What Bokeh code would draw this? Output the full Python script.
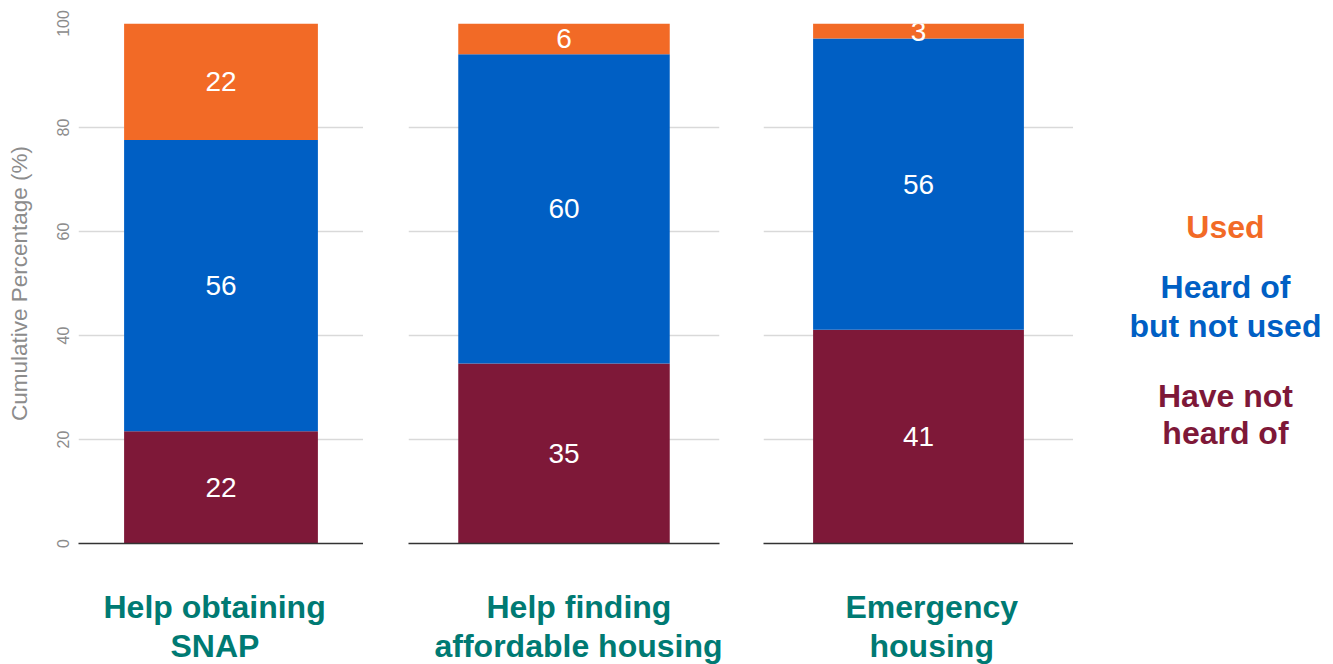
import numpy as np
from bokeh.plotting import figure
from bokeh.models import ColumnDataSource, FactorRange, Range1d, FixedTicker, Label, Title
from bokeh.layouts import row
from bokeh.embed import file_html
from bokeh.resources import INLINE
from bokeh.core.properties import value

# ---------------- data ----------------
categories = ["Help obtaining SNAP", "Help finding affordable housing", "Emergency housing"]
category_lines = [["Help obtaining", "SNAP"],
                  ["Help finding", "affordable housing"],
                  ["Emergency", "housing"]]
series = ["Have not heard of", "Heard of but not used", "Used"]
have_not_heard = [21.6, 34.6, 41.1]
heard_not_used = [56.0, 59.5, 56.0]
used = [22.4, 5.9, 2.9]
y_ticks = [0, 20, 40, 60, 80, 100]
legend_lines = [["Used"], ["Heard of", "but not used"], ["Have not", "heard of"]]

# ---------------- styles ----------------
series_colors = ["#7E1838", "#005FC4", "#F26A26"]
legend_colors = ["#F26A26", "#005FC4", "#7E1838"]
teal = "#007A73"
gray = "#8c8c8c"
grid_color = "#d9d9d9"
FONT = "Liberation Sans"

H = 664
panel_widths = [363, 360, 350]
border_left = [78, 45, 40]
border_right = [0, 4, 0]
line_offsets = [[25, 92], [78, 26], [82, 106]]   # left offset of each title line

figs = []
for i, cat in enumerate(categories):
    vals = [have_not_heard[i], heard_not_used[i], used[i]]
    tops = np.cumsum(vals)
    bottoms = tops - np.array(vals)
    src = ColumnDataSource(dict(
        cat=[cat] * 3,
        bottom=bottoms,
        top=tops,
        mid=(bottoms + tops) / 2,
        color=series_colors,
        label=[f"{v:.0f}" for v in vals],
        series=series,
    ))
    p = figure(width=panel_widths[i], height=H,
               x_range=FactorRange(factors=[cat], range_padding=0),
               y_range=Range1d(0, 100),
               output_backend="svg", toolbar_location=None,
               min_border_left=border_left[i], min_border_right=border_right[i],
               min_border_top=23, min_border_bottom=121)
    p.title.visible = False
    p.outline_line_color = None
    p.background_fill_color = "white"
    p.border_fill_color = "white"

    p.vbar(x="cat", bottom="bottom", top="top", width=0.68,
           fill_color="color", line_color=None, source=src)
    p.text(x="cat", y="mid", text="label", text_align="center",
           text_baseline="middle", text_color="white",
           text_font_size="28px", text_font=value(FONT), source=src)

    # grid
    p.xgrid.visible = False
    p.ygrid.ticker = FixedTicker(ticks=y_ticks)
    p.ygrid.grid_line_color = grid_color
    p.ygrid.grid_line_width = 1.5

    # x axis: baseline only (tick space used as gap above the category name)
    p.xaxis.axis_line_color = "#333333"
    p.xaxis.axis_line_width = 1.5
    p.xaxis.major_tick_line_color = None
    p.xaxis.minor_tick_line_color = None
    p.xaxis.major_tick_out = 42
    p.xaxis.major_label_overrides = {cat: ""}
    p.xaxis.major_label_text_font_size = "0px"
    p.xaxis.major_label_standoff = 0

    # y axis
    if i == 0:
        p.yaxis.ticker = FixedTicker(ticks=y_ticks)
        p.yaxis.axis_line_color = None
        p.yaxis.major_tick_line_color = None
        p.yaxis.minor_tick_line_color = None
        p.yaxis.major_label_orientation = "parallel"
        p.yaxis.major_label_text_font = FONT
        p.yaxis.major_label_text_font_size = "16px"
        p.yaxis.major_label_text_color = gray
        p.yaxis.major_label_standoff = 4
        p.yaxis.axis_label = "Cumulative Percentage (%)"
        p.yaxis.axis_label_text_font = FONT
        p.yaxis.axis_label_text_font_style = "normal"
        p.yaxis.axis_label_text_font_size = "22.5px"
        p.yaxis.axis_label_text_color = gray
        p.yaxis.axis_label_standoff = 22
    else:
        p.yaxis.visible = False

    # category name under the bar (two lines)
    for j, line in enumerate(category_lines[i]):
        p.add_layout(Title(text=line, align="left", offset=line_offsets[i][j],
                           text_font=FONT, text_font_style="bold",
                           text_font_size="32px", text_color=teal,
                           standoff=(2 if j == 0 else 0)), "below")
    figs.append(p)

# legend panel (frame aligned with the bar panels: 23..543 px)
leg = figure(width=252, height=H,
             x_range=Range1d(0, 1), y_range=Range1d(0, 1),
             output_backend="svg", toolbar_location=None,
             x_axis_location=None, y_axis_location=None,
             min_border=0)
leg.title.visible = False
leg.outline_line_color = None
leg.xgrid.visible = False
leg.ygrid.visible = False
legend_y = [[0.608], [0.494, 0.419], [0.283, 0.212]]
for k, lines in enumerate(legend_lines):
    for j, line in enumerate(lines):
        leg.add_layout(Label(x=0.603, y=legend_y[k][j], text=line,
                             text_align="center", text_baseline="middle",
                             text_font=FONT, text_font_style="bold",
                             text_font_size="32px", text_color=legend_colors[k]))

layout = row(*figs, leg, spacing=0)
open("out.html", "w").write(file_html(layout, INLINE))
